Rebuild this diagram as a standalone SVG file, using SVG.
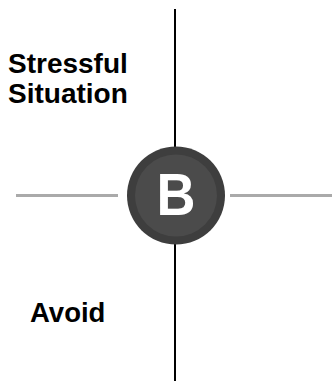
<svg xmlns="http://www.w3.org/2000/svg" width="332" height="381" viewBox="0 0 332 381">
<style>
.lbl{font-family:"Liberation Sans",Arial,sans-serif;font-weight:bold;font-size:28px;fill:#000}
.axis{stroke:#000;stroke-width:2}
.hline{stroke:#aaa;stroke-width:3}
</style>
<rect width="332" height="381" fill="#fff"/>
<g id="connectors">
<line class="axis" x1="175" y1="9" x2="175" y2="381"/>
<line class="hline" x1="16" y1="195.5" x2="118" y2="195.5"/>
<line class="hline" x1="230" y1="195.5" x2="332" y2="195.5"/>
</g>
<g id="label-stressful">
<text class="lbl" x="8" y="73">Stressful</text>
<text class="lbl" x="8" y="103">Situation</text>
</g>
<g id="label-avoid">
<text class="lbl" x="30" y="322" style="font-size:27.5px">Avoid</text>
</g>
<g id="node-b">
<circle cx="176" cy="195.5" r="49" fill="#3e3e3e"/>
<circle cx="176" cy="195.5" r="41" fill="#4b4b4b"/>
<text x="176" y="215" text-anchor="middle" font-family="'Liberation Sans',Arial,sans-serif" font-weight="900" font-size="60" fill="#fff" transform="translate(176 0) scale(0.9 1) translate(-176 0)">B</text>
</g>
</svg>
